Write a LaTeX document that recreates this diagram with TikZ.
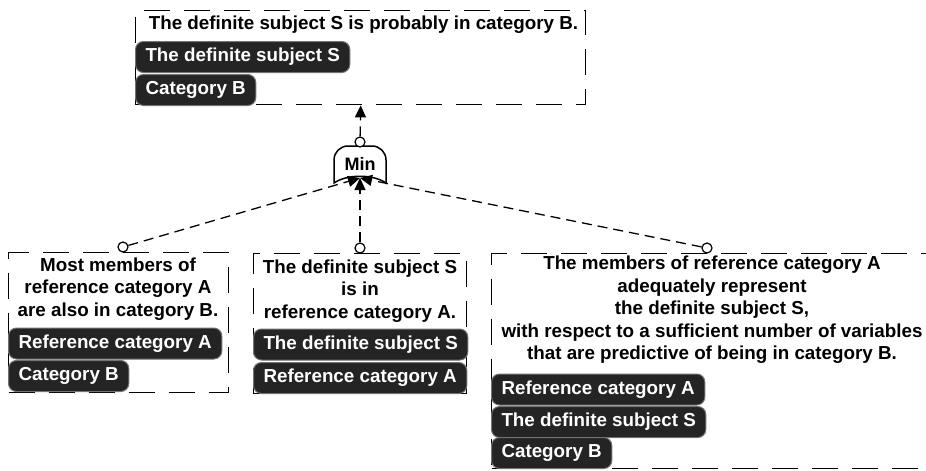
\documentclass[tikz,border=0pt]{standalone}
\usepackage{fontspec}
\setmainfont{Liberation Sans}
\usetikzlibrary{arrows.meta}
\begin{document}
\begin{tikzpicture}[x=1pt,y=-1pt,
  txt/.style={font=\fontsize{18.8}{22.5}\selectfont\bfseries, inner sep=0pt, align=center},
  frame/.style={draw, line width=1.4pt, dash pattern=on 26pt off 14pt, anchor=north west, inner sep=0pt},
  tag/.style={font=\fontsize{18.8}{22.5}\selectfont\bfseries, text=white, fill=black!86, draw=black!55,
    line width=1pt, rounded corners=8pt, inner xsep=10pt, inner ysep=0pt, minimum height=31pt,
    anchor=west},
  port/.style={circle, draw, fill=white, line width=1.2pt, minimum size=10pt, inner sep=0pt},
  conn/.style={line width=1.3pt, dash pattern=on 10pt off 6pt, -{Triangle[length=12pt,width=11pt]}},
]
\useasboundingbox (0,0) rectangle (926,471);
\clip (0,0) rectangle (926,471);

% frames
\node[frame, minimum width=450pt, minimum height=94pt] (topframe) at (135,10) {};
\node[frame, minimum width=220pt, minimum height=140pt] (leftframe) at (8,252) {};
\node[frame, minimum width=213pt, minimum height=140pt] (midframe) at (253,253) {};
\node[frame, minimum width=460pt, minimum height=215pt] (rightframe) at (491,253) {};

% conclusion
\node[txt] (concl) at (363.5,24.5) {The definite subject S is probably in category B.};
\node[tag] (ctag1) at (135,57) {The definite subject S};
\node[tag] (ctag2) at (135,90) {Category B};

% premise 1
\node[txt] (p1) at (118,289) {Most members of\\reference category A\\are also in category B.};
\node[tag] (p1tag1) at (8,343.5) {Reference category A};
\node[tag] (p1tag2) at (8,376) {Category B};

% premise 2
\node[txt] (p2) at (360,291) {The definite subject S\\is in\\reference category A.};
\node[tag] (p2tag1) at (253,344.5) {The definite subject S};
\node[tag] (p2tag2) at (253,378) {Reference category A};

% premise 3
\node[txt] (p3) at (712,310) {The members of reference category A\\adequately represent\\the definite subject S,\\with respect to a sufficient number of variables\\that are predictive of being in category B.};
\node[tag] (p3tag1) at (491,389.5) {Reference category A};
\node[tag] (p3tag2) at (491,422) {The definite subject S};
\node[tag] (p3tag3) at (491,453) {Category B};

% Min gate
\draw[line width=1.5pt, fill=white] (334,183) -- (334,160) to[out=90,in=180] (348,146) -- (372,146)
  to[out=0,in=90] (386,160) -- (386,183) .. controls (373,174) and (347,174) .. (334,183) -- cycle;
\node[txt, font=\fontsize{18}{20}\selectfont\bfseries] (gate) at (360,164) {Min};
\coordinate (gin) at (360,178);

% ports
\node[port] (pt) at (360,142) {};
\node[port] (pl) at (123,247) {};
\node[port] (pm) at (360,248) {};
\node[port] (pr) at (707,248) {};

% connectors
\draw[conn] (pt) -- (topframe.south);
\draw[conn] (pl) -- (gin);
\draw[conn] (pm) -- (gin);
\draw[conn] (pr) -- (gin);
\end{tikzpicture}
\end{document}
